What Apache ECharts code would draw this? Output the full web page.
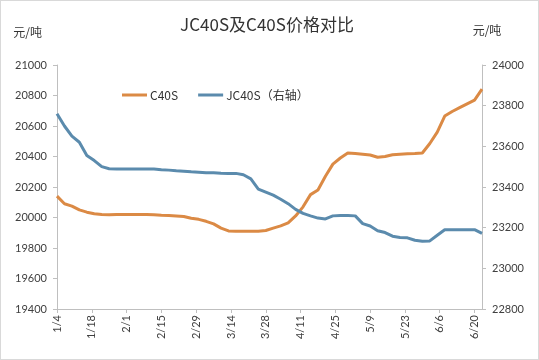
<!DOCTYPE html>
<html><head><meta charset="utf-8">
<script src="https://cdn.jsdelivr.net/npm/echarts@6/dist/echarts.min.js"></script>
<style>html,body{margin:0;padding:0;background:#fff}#c{width:539px;height:360px;box-sizing:border-box;border:1px solid #d9d9d9}</style>
</head><body><div id="c"></div>
<script>
// day offsets from 1/4
const days = [0,3,6,9,12,15,18,21,24,27,30,33,36,39,42,45,48,51,54,57,60,63,66,69,72,75,78,81,84,87,90,93,96,99,102,105,108,111,114,117,120,123,126,129,132,135,138,141,144,147,150,153,156,159,162,165,168,171];
const c40s = [20140,20090,20075,20050,20035,20025,20020,20018,20020,20020,20020,20020,20020,20018,20015,20013,20010,20007,19995,19988,19975,19958,19930,19912,19910,19910,19910,19910,19915,19930,19945,19965,20010,20070,20150,20180,20270,20350,20390,20423,20420,20415,20410,20395,20400,20412,20415,20418,20420,20423,20485,20560,20665,20695,20720,20745,20770,20842];
const jc40s = [23760,23700,23650,23620,23555,23530,23500,23490,23488,23488,23488,23488,23488,23488,23485,23483,23480,23478,23475,23473,23470,23470,23468,23467,23467,23460,23440,23390,23375,23360,23340,23318,23290,23270,23258,23247,23243,23258,23260,23260,23258,23220,23208,23185,23176,23158,23152,23150,23138,23133,23135,23163,23190,23190,23190,23190,23190,23172];
const tickLabels = ['1/4','1/18','2/1','2/15','2/29','3/14','3/28','4/11','4/25','5/9','5/23','6/6','6/20'];
const seriesNames = ['C40S','JC40S（右轴）'];

const font = 'Lato, "Noto Sans CJK SC", sans-serif';
const cjk = '"Noto Sans CJK SC", sans-serif';
const chart = echarts.init(document.getElementById('c'));
const pair = (vals) => days.map((d,i)=>[d, vals[i]]);
chart.setOption({
  animation:false,
  backgroundColor:'#fff',
  title:{text:'JC40S及C40S价格对比', left:261, top:10, textAlign:'center',
    textStyle:{fontSize:17, fontWeight:'normal', color:'#333', fontFamily:cjk}},
  legend:{left:116, top:83, itemWidth:25, itemHeight:3, itemGap:20, icon:'rect',
    textStyle:{fontSize:12, color:'#333', fontFamily:cjk, padding:[0,0,0,-2]},
    data:seriesNames},
  grid:{left:56, right:56, top:64, bottom:50},
  xAxis:{type:'value', min:0, max:171, interval:14,
    axisLine:{show:true, lineStyle:{color:'#bfbfbf'}},
    axisTick:{show:true, length:4, lineStyle:{color:'#bfbfbf'}},
    splitLine:{show:false},
    axisLabel:{rotate:90, fontSize:11, color:'#404040', fontFamily:font, margin:6, showMaxLabel:false,
      formatter:(v)=>{const k=Math.round(v/14); return (v%14===0 && tickLabels[k])?tickLabels[k]:'';}}},
  yAxis:[
    {type:'value', min:19400, max:21000, interval:200, name:'元/吨', nameLocation:'end',
      nameGap:27, nameTextStyle:{fontSize:12, color:'#333', align:'right', padding:[0,15,0,0], fontFamily:cjk},
      axisLine:{show:true, lineStyle:{color:'#bfbfbf'}}, axisTick:{show:true, length:4, lineStyle:{color:'#bfbfbf'}},
      splitLine:{show:false}, axisLabel:{fontSize:11, color:'#404040', fontFamily:font, margin:10, formatter:(v)=>String(v)}},
    {type:'value', min:22800, max:24000, interval:200, name:'元/吨', nameLocation:'end',
      nameGap:29, nameTextStyle:{fontSize:12, color:'#333', align:'center', padding:[0,0,0,10], fontFamily:cjk},
      axisLine:{show:true, lineStyle:{color:'#bfbfbf'}}, axisTick:{show:true, length:4, lineStyle:{color:'#bfbfbf'}},
      splitLine:{show:false}, axisLabel:{fontSize:11, color:'#404040', fontFamily:font, margin:10, formatter:(v)=>String(v)}}
  ],
  series:[
    {name:seriesNames[0], type:'line', yAxisIndex:0, data:pair(c40s), showSymbol:false, symbol:'none',
      lineStyle:{width:3, color:'#DB8A45'}, itemStyle:{color:'#DB8A45'}},
    {name:seriesNames[1], type:'line', yAxisIndex:1, data:pair(jc40s), showSymbol:false, symbol:'none',
      lineStyle:{width:3, color:'#5B8BAD'}, itemStyle:{color:'#5B8BAD'}}
  ]
});
</script></body></html>
